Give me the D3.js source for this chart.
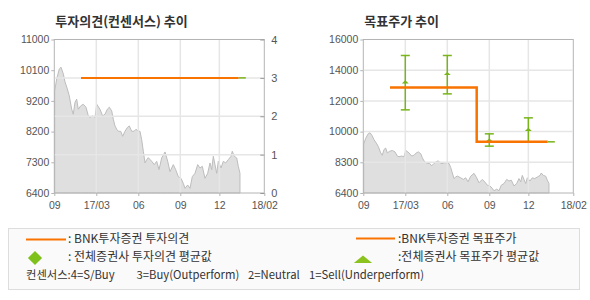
<!DOCTYPE html>
<meta charset="utf-8">
<html>
<head>
<title>투자의견 / 목표주가 추이</title>
<style>
  body { margin: 0; background: #fff; }
  text { font-family: "Liberation Sans", Arial, sans-serif; }
  .kr { font-family: "Noto Sans CJK KR", sans-serif; }
</style>
</head>
<body>
<svg id="chart" width="590" height="300"></svg>

<script src="https://d3js.org/d3.v7.min.js"></script>
<script>

// x axis runs in "period" units, one per labelled tick
var xTicks = [0, 1, 2, 3, 3.93, 5];
var xLabels = ["09", "17/03", "06", "09", "12", "18/02"];

// share price [period, won]
var price = [
  [0.01, 9465], [0.057, 9820], [0.12, 10120], [0.16, 10170], [0.214, 9970], [0.255, 9730],
  [0.31, 9520], [0.357, 9310], [0.414, 8910], [0.452, 8760], [0.493, 9120], [0.533, 9210],
  [0.571, 8910], [0.628, 9010], [0.69, 9060], [0.755, 8970], [0.81, 8710], [0.85, 8670],
  [0.914, 8710], [0.969, 8670], [1.01, 9060], [1.088, 8910], [1.152, 8710], [1.207, 8760],
  [1.262, 8910], [1.31, 8970], [1.367, 8860], [1.405, 8610], [1.445, 8410], [1.486, 8310],
  [1.524, 8250], [1.58, 8250], [1.628, 8100], [1.683, 8250], [1.738, 8360], [1.786, 8410],
  [1.843, 8250], [1.898, 8250], [1.945, 8310], [2.0, 8250], [2.04, 8250], [2.08, 8000],
  [2.12, 7650], [2.16, 7300], [2.2, 7400], [2.238, 7460], [2.319, 7350], [2.381, 7250],
  [2.438, 7350], [2.493, 7100], [2.557, 7450], [2.636, 7630], [2.7, 7350], [2.755, 7040],
  [2.833, 7250], [2.89, 7100], [2.952, 6890], [3.017, 6840], [3.071, 6690], [3.112, 6540],
  [3.176, 6640], [3.231, 6540], [3.286, 6890], [3.35, 6990], [3.414, 7250], [3.469, 7150],
  [3.524, 7200], [3.588, 6840], [3.652, 6990], [3.707, 7300], [3.748, 7100], [3.786, 7500],
  [3.826, 7250], [3.867, 6990], [3.905, 7350], [3.969, 7150], [4.024, 7350], [4.081, 7300],
  [4.143, 7400], [4.207, 7500], [4.238, 7650], [4.286, 7500], [4.343, 7450], [4.381, 7200],
  [4.421, 6990]
];

// left panel: consensus opinion
var opinionDomain = [6400, 11000];
var opinionLabels = ["6400", "7300", "8200", "9200", "10100", "11000"];
var consensusTicks = [0, 1, 2, 3, 4];
var bnkOpinion = [[0.636, 3], [4.39, 3]];
var avgOpinion = [[4.39, 3], [4.56, 3]];

// right panel: target price
var targetDomain = [6400, 16000];
var targetLabels = ["6400", "8300", "10000", "12000", "14000", "16000"];
var bnkTarget = [[0.636, 13000], [2.70, 9600], [4.39, 9600]];
var avgTargetLine = [[4.39, 9600], [4.56, 9600]];
var avgTargetDates = [1, 2, 3, 3.93];
var avgTargetHigh = [15000, 15000, 10100, 11100];
var avgTargetLow = [11600, 12600, 9330, 9600];
var avgTargetMean = [13320, 13840, 9680, 10350];

var orange = "#f97300", green = "#78b41a", axisGrey = "#b4b4b4", gridGrey = "#e6e6e6";

var svg = d3.select("#chart");

function evenTicks(domain, n) {
  return d3.range(n + 1).map(function (i) { return domain[0] + i * (domain[1] - domain[0]) / n; });
}

function panel(left, title, domain, labels) {
  var top = 39.5, bottom = 193, w = 210;
  var g = svg.append("g");
  var x = d3.scaleLinear().domain([0, 5]).range([left, left + w]);
  var y = d3.scaleLinear().domain(domain).range([bottom, top]);

  g.append("text").attr("class", "kr")
    .attr("x", left + 1).attr("y", 26)
    .style("font-size", "13px").style("font-weight", "bold").style("fill", "#333")
    .text(title);

  // price area
  g.append("path")
    .attr("class", "price")
    .datum(price)
    .attr("fill", "#dfdfdf")
    .attr("stroke", "#bdbdbd")
    .attr("stroke-width", 1)
    .attr("d", d3.area()
      .x(function (d) { return x(d[0]); })
      .y0(bottom)
      .y1(function (d) { return y(d[1]); }));

  // vertical grid
  g.selectAll(".vgrid")
    .data(xTicks.slice(1, -1))
    .enter().append("line")
    .attr("x1", function (d) { return x(d); }).attr("x2", function (d) { return x(d); })
    .attr("y1", top).attr("y2", bottom)
    .attr("stroke", gridGrey).attr("stroke-width", 1.5);

  // frame
  g.append("rect")
    .attr("x", left).attr("y", top).attr("width", w).attr("height", bottom - top)
    .attr("fill", "none").attr("stroke", axisGrey);

  // x axis
  var xa = g.append("g")
    .attr("transform", "translate(0," + bottom + ")")
    .call(d3.axisBottom(x).tickValues(xTicks).tickSize(3).tickPadding(6)
      .tickFormat(function (d, i) { return xLabels[i]; }));

  // left y axis
  var ya = g.append("g")
    .attr("transform", "translate(" + left + ",0)")
    .call(d3.axisLeft(y).tickValues(evenTicks(domain, 5)).tickSize(3).tickPadding(2)
      .tickFormat(function (d, i) { return labels[i]; }));

  [xa, ya].forEach(function (a) {
    a.select(".domain").remove();
    a.selectAll("line").attr("stroke", axisGrey);
    a.selectAll("text").style("font-size", "10.5px").style("fill", "#555")
      .style("font-family", "'Liberation Sans', Arial, sans-serif");
  });

  return { g: g, x: x, y: y, top: top, bottom: bottom, left: left, w: w };
}

// ---- left: 투자의견 ----
var p1 = panel(54.3, "투자의견(컨센서스) 추이", opinionDomain, opinionLabels);
var yc = d3.scaleLinear().domain([0, 4]).range([p1.bottom, p1.top]);

p1.g.selectAll(".hgrid")
  .data(consensusTicks.slice(1, -1))
  .enter().append("line")
  .attr("x1", p1.left + 0.5).attr("x2", p1.left + p1.w - 0.5)
  .attr("y1", function (d) { return yc(d); }).attr("y2", function (d) { return yc(d); })
  .attr("stroke", gridGrey).attr("stroke-width", 1.5);

var ra = p1.g.append("g")
  .attr("transform", "translate(" + (p1.left + p1.w) + ",0)")
  .call(d3.axisRight(yc).tickValues(consensusTicks).tickSize(-4).tickPadding(7).tickFormat(d3.format("d")));
ra.select(".domain").remove();
ra.selectAll("line").attr("stroke", "#999");
ra.selectAll("text").style("font-size", "11px").style("fill", "#555");

var line1 = d3.line().x(function (d) { return p1.x(d[0]); }).y(function (d) { return yc(d[1]); });
p1.g.append("path").datum(bnkOpinion).attr("d", line1)
  .attr("fill", "none").attr("stroke", orange).attr("stroke-width", 2);
p1.g.append("path").datum(avgOpinion).attr("d", line1)
  .attr("fill", "none").attr("stroke", green).attr("stroke-width", 1.5);

// ---- right: 목표주가 ----
var p2 = panel(363.3, "목표주가 추이", targetDomain, targetLabels);

p2.g.selectAll(".hgrid")
  .data(evenTicks(targetDomain, 5).slice(1, -1))
  .enter().append("line")
  .attr("x1", p2.left + 0.5).attr("x2", p2.left + p2.w - 0.5)
  .attr("y1", function (d) { return p2.y(d); }).attr("y2", function (d) { return p2.y(d); })
  .attr("stroke", gridGrey).attr("stroke-width", 1.5);

// grid sits on top of the price area
p1.g.select(".price").lower();
p2.g.select(".price").lower();

var line2 = d3.line().curve(d3.curveStepAfter)
  .x(function (d) { return p2.x(d[0]); }).y(function (d) { return p2.y(d[1]); });

// consensus range bars
var bars = p2.g.selectAll(".bar")
  .data(avgTargetDates.map(function (d, i) {
    return { t: d, hi: avgTargetHigh[i], lo: avgTargetLow[i], mean: avgTargetMean[i] };
  }))
  .enter().append("g");
bars.append("line")
  .attr("x1", function (d) { return p2.x(d.t); }).attr("x2", function (d) { return p2.x(d.t); })
  .attr("y1", function (d) { return p2.y(d.hi); }).attr("y2", function (d) { return p2.y(d.lo); })
  .attr("stroke", green).attr("stroke-width", 1.5);
["hi", "lo"].forEach(function (k) {
  bars.append("line")
    .attr("x1", function (d) { return p2.x(d.t) - 4.5; }).attr("x2", function (d) { return p2.x(d.t) + 4.5; })
    .attr("y1", function (d) { return p2.y(d[k]); }).attr("y2", function (d) { return p2.y(d[k]); })
    .attr("stroke", green).attr("stroke-width", 1.5);
});

p2.g.append("path").datum(bnkTarget).attr("d", line2)
  .attr("fill", "none").attr("stroke", orange).attr("stroke-width", 2.5);
p2.g.append("path").datum(avgTargetLine).attr("d", line2)
  .attr("fill", "none").attr("stroke", green).attr("stroke-width", 1.5);

bars.append("path")
  .attr("transform", function (d) { return "translate(" + p2.x(d.t) + "," + p2.y(d.mean) + ") scale(1.3,0.7)"; })
  .attr("d", d3.symbol(d3.symbolTriangle, 12))
  .attr("fill", green);

// ---- legend ----
var lg = svg.append("g");
lg.append("rect").attr("x", 8.5).attr("y", 228.5).attr("width", 571).attr("height", 61)
  .attr("fill", "#fafafa").attr("stroke", "#dddddd");

function legendText(xp, yp, s, size) {
  lg.append("text").attr("class", "kr").attr("x", xp).attr("y", yp)
    .attr("dominant-baseline", "middle")
    .style("font-size", (size || 12) + "px").style("fill", "#333").text(s);
}

lg.append("line").attr("x1", 26).attr("x2", 66).attr("y1", 239.5).attr("y2", 239.5)
  .attr("stroke", orange).attr("stroke-width", 2);
legendText(68, 240, ": BNK투자증권 투자의견");

lg.append("path").attr("transform", "translate(35,258) rotate(45)")
  .attr("d", d3.symbol(d3.symbolSquare, 100)).attr("fill", "#7dc11a");
legendText(68, 258, ": 전체증권사 투자의견 평균값");

lg.append("line").attr("x1", 356).attr("x2", 395).attr("y1", 238.5).attr("y2", 238.5)
  .attr("stroke", orange).attr("stroke-width", 2);
legendText(398, 240, ":BNK투자증권 목표주가");

lg.append("path").attr("transform", "translate(363,260.5) scale(1.9,0.9)")
  .attr("d", d3.symbol(d3.symbolTriangle, 40)).attr("fill", "#8cc21e");
legendText(398, 258, ":전체증권사 목표주가 평균값");

var notes = ["컨센서스:4=S/Buy", "3=Buy(Outperform)", "2=Neutral", "1=Sell(Underperform)"];
var noteX = [26, 136.5, 248, 309];
notes.forEach(function (s, i) { legendText(noteX[i], 276, s, 11.3); });

</script>
</body>
</html>
